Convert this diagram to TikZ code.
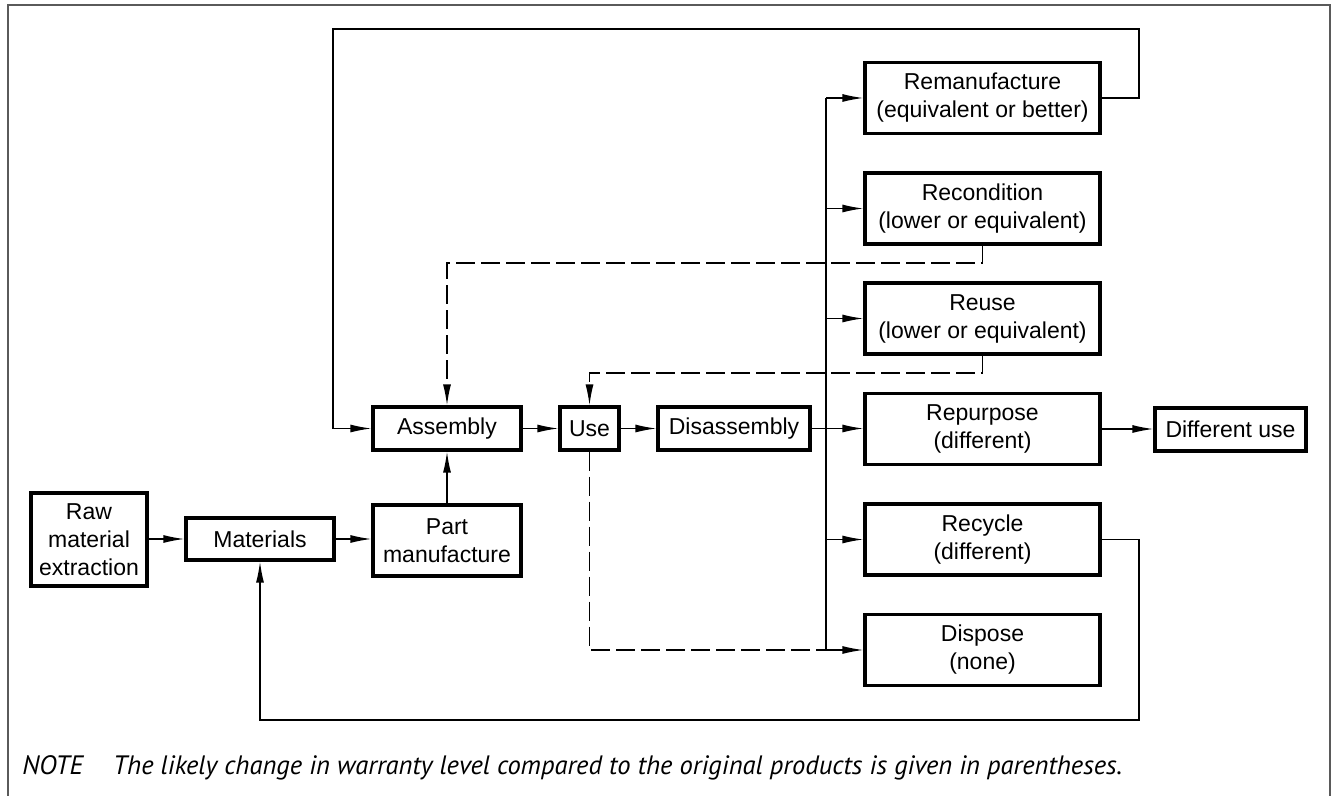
\documentclass[tikz,border=0pt]{standalone}
\usepackage{fontspec}
\setmainfont{Liberation Sans}
\newfontfamily\notefont{PT Sans}
\usetikzlibrary{arrows.meta,calc}
\definecolor{framec}{RGB}{90,90,90}
\tikzset{
  box/.style={draw, line width=1.6pt, inner sep=0pt, align=center,
    font=\fontsize{11.5}{14}\selectfont},
  rbox/.style={box, minimum width=117.5pt, minimum height=35.5pt},
  sbox/.style={box, minimum height=21.5pt},
  conn/.style={line width=0.7pt},
  arr/.style={conn, -{Latex[length=10.5pt,width=4pt]}},
  dsh/.style={dash pattern=on 9.5pt off 3pt},
}
\begin{document}
\begin{tikzpicture}[x=0.5pt,y=-0.5pt]
\useasboundingbox (0,0) rectangle (1334,796);
% frame
\draw[framec, line width=0.8pt] (8,796) -- (8,5) -- (1330,5) -- (1330,796);

% nodes
\node[box, minimum width=58pt, minimum height=46.5pt] (raw) at (89,539.5) {Raw\\material\\extraction};
\node[sbox, minimum width=74pt, minimum height=21pt] (mat) at (260,539) {Materials};
\node[box, minimum width=74pt, minimum height=35.5pt] (part) at (447,540.5) {Part\\manufacture};
\node[sbox, minimum width=74pt] (asm) at (447,428.5) {Assembly};
\node[sbox, minimum width=29.5pt] (use) at (589.5,428.5) {Use};
\node[sbox, minimum width=76pt] (dis) at (734,428.5) {Disassembly};
\node[rbox] (reman) at (982.5,98) {Remanufacture\\(equivalent or better)};
\node[rbox] (recond) at (982.5,208.5) {Recondition\\(lower or equivalent)};
\node[rbox] (reuse) at (982.5,318.5) {Reuse\\(lower or equivalent)};
\node[rbox] (repurp) at (982.5,429) {Repurpose\\(different)};
\node[rbox] (recycle) at (982.5,539.5) {Recycle\\(different)};
\node[rbox] (dispose) at (982.5,650) {Dispose\\(none)};
\node[sbox, minimum width=75.5pt] (diff) at (1230.5,429.5) {Different use};

% helper coordinates
\coordinate (busx) at (826,0);
\coordinate (rtop) at (1139,29);
\coordinate (ltop) at (333,29);
\coordinate (rbot) at (1139,720);
\coordinate (d1) at (982.5,263);
\coordinate (d2) at (982.5,373);

% main flow
\draw[arr] (raw.east |- mat.west) -- (mat.west);
\draw[arr] (mat.east) -- (mat.east -| part.west);
\draw[arr] (part.north) -- (asm.south);
\draw[arr] (asm.east) -- (use.west);
\draw[arr] (use.east) -- (dis.west);
\draw[arr] (dis.east) -- (dis.east -| repurp.west);
\draw[arr] (repurp.east) -- (repurp.east -| diff.west);

% bus
\draw[conn] (reman.west -| busx) -- (dispose.west -| busx);
\foreach \n in {reman,recond,reuse,recycle,dispose}
  \draw[arr] (\n.west -| busx) -- (\n.west);

% remanufacture return
\draw[arr] (reman.east) -- (reman.east -| rtop) -- (rtop) -- (ltop) -- (asm.west -| ltop) -- (asm.west);
% recycle return
\draw[arr] (recycle.east) -- (recycle.east -| rbot) -- (rbot) -- (rbot -| mat.south) -- (mat.south);
% dashed returns
\draw[arr, dsh] (recond.south) -- (d1) -- (d1 -| asm.north) -- (asm.north);
\draw[arr, dsh] (reuse.south) -- (d2) -- (d2 -| use.north) -- (use.north);
\draw[conn, dsh] (use.south) -- (use.south |- dispose.west) -- (dispose.west -| busx);

% note
\node[anchor=west, inner sep=0pt] (note) at (22,768)
  {\notefont\itshape\fontsize{13.3}{15}\selectfont NOTE\hspace{15pt}The likely change in warranty level compared to the original products is given in parentheses.};
\end{tikzpicture}
\end{document}
